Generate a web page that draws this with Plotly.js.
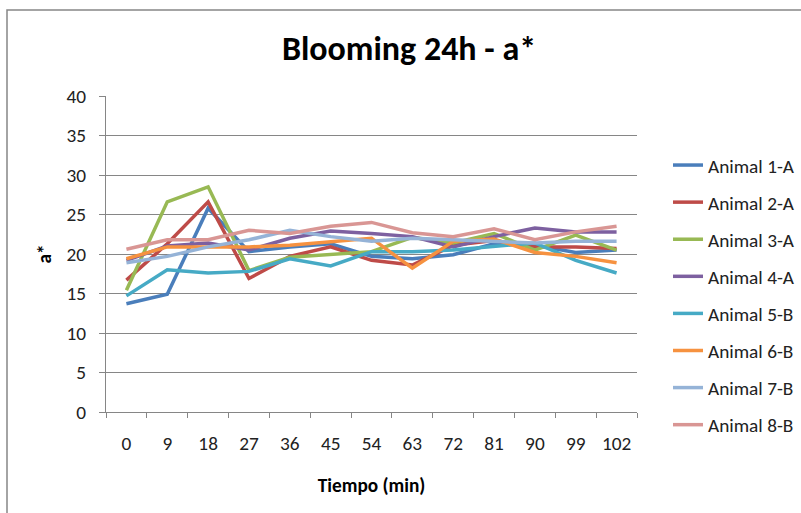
<!DOCTYPE html>
<html>
<head>
<meta charset="utf-8">
<script src="https://cdn.plot.ly/plotly-3.0.1.min.js"></script>
<style>
  html, body { margin: 0; padding: 0; background: #ffffff; overflow: hidden; }
  #chart { width: 830px; height: 513px; }
</style>
</head>
<body>
<div id="chart"></div>
<script>
// Sampling times (minutes)
const tiempos = ['0', '9', '18', '27', '36', '45', '54', '63', '72', '81', '90', '99', '102'];

// a* readings per animal
const animal1A = [13.7, 14.9, 25.8, 20.3, 20.9, 21.3, 19.7, 19.4, 19.9, 21.3, 21.1, 20.2, 20.5];
const animal2A = [16.7, 21.3, 26.6, 16.9, 19.7, 20.9, 19.2, 18.6, 21.1, 21.7, 20.9, 20.9, 20.7];
const animal3A = [15.4, 26.6, 28.5, 17.9, 19.6, 20.0, 20.3, 22.1, 21.4, 22.6, 20.5, 22.4, 20.5];
const animal4A = [19.2, 21.0, 21.4, 20.5, 22.0, 22.9, 22.6, 22.2, 20.9, 22.2, 23.3, 22.8, 22.8];
const animal5B = [14.7, 18.0, 17.6, 17.8, 19.4, 18.5, 20.3, 20.3, 20.5, 20.9, 21.4, 19.2, 17.6];
const animal6B = [19.4, 20.9, 20.9, 20.9, 21.1, 21.6, 22.0, 18.2, 21.6, 21.9, 20.2, 19.7, 18.9];
const animal7B = [18.9, 19.7, 20.9, 21.8, 23.0, 22.2, 21.6, 22.0, 21.8, 21.6, 21.4, 21.6, 21.6];
const animal8B = [20.6, 21.8, 21.8, 23.0, 22.6, 23.5, 24.0, 22.7, 22.2, 23.2, 21.8, 22.8, 23.5];

const seriesNames = ['Animal 1-A', 'Animal 2-A', 'Animal 3-A', 'Animal 4-A',
                     'Animal 5-B', 'Animal 6-B', 'Animal 7-B', 'Animal 8-B'];
const seriesValues = [animal1A, animal2A, animal3A, animal4A,
                      animal5B, animal6B, animal7B, animal8B];
const seriesColors = ['#4a7ebb', '#be4b48', '#98b954', '#7d60a0',
                      '#46aac5', '#f69240', '#95b3d7', '#d99694'];

const FONT = "Carlito, Calibri, 'Liberation Sans Narrow', 'Liberation Sans', sans-serif";
const BODY = 19.3;
// The chart frame runs past the right edge of the window, so the figure is a bit wider
const FIG_W = 830;

const traces = seriesNames.map((name, i) => ({
  type: 'scatter',
  mode: 'lines',
  name: name,
  legendgroup: 'g' + i,
  x: tiempos,
  y: seriesValues[i],
  line: { color: seriesColors[i], width: 3.5 },
  hoverinfo: 'x+y+name'
}));

const layout = {
  width: FIG_W,
  height: 513,
  margin: { l: 106, r: FIG_W - 637, t: 96, b: 101, pad: 0 },
  paper_bgcolor: '#ffffff',
  plot_bgcolor: '#ffffff',
  font: { family: FONT, size: BODY, color: '#222222' },
  title: {
    text: '<b>Blooming 24h - a*</b>',
    font: { family: FONT, size: 34, color: '#000000' },
    x: 409 / FIG_W, xref: 'container', xanchor: 'center',
    y: 1 - 48 / 513, yref: 'container', yanchor: 'middle'
  },
  xaxis: {
    type: 'category',
    categoryorder: 'array',
    categoryarray: tiempos,
    range: [-0.5, tiempos.length - 0.5],
    tickson: 'boundaries',
    ticks: 'outside',
    ticklen: 5,
    tickcolor: '#868686',
    showline: true,
    linecolor: '#868686',
    linewidth: 1,
    showgrid: false,
    zeroline: false,
    ticklabelstandoff: 14,
    tickfont: { family: FONT, size: BODY, color: '#222222' },
    title: {
      text: '<b>Tiempo (min)</b>',
      font: { family: FONT, size: BODY, color: '#000000' },
      standoff: 24
    },
    automargin: false
  },
  yaxis: {
    range: [0, 40],
    dtick: 5,
    tick0: 0,
    ticks: 'outside',
    ticklen: 6,
    tickcolor: '#868686',
    showline: true,
    linecolor: '#868686',
    linewidth: 1,
    showgrid: true,
    gridcolor: '#868686',
    gridwidth: 1,
    zeroline: false,
    ticklabelstandoff: 9,
    tickfont: { family: FONT, size: BODY, color: '#222222' },
    title: {
      text: '<b>a*</b>',
      font: { family: FONT, size: BODY, color: '#000000' },
      standoff: 9
    },
    automargin: false
  },
  legend: {
    x: (668 - 106) / 531,
    xanchor: 'left',
    y: (412 - 146) / 316,
    yanchor: 'top',
    bgcolor: 'rgba(0,0,0,0)',
    font: { family: FONT, size: BODY, color: '#222222' },
    tracegroupgap: 9,
    itemwidth: 30
  },
  shapes: [{
    type: 'rect',
    xref: 'paper', yref: 'paper',
    x0: (7 - 106) / 531, x1: (825 - 106) / 531,
    y0: (412 - 530) / 316, y1: (412 - 10) / 316,
    line: { color: '#868686', width: 1.5 },
    fillcolor: 'rgba(0,0,0,0)',
    layer: 'below'
  }],
  showlegend: true
};

Plotly.newPlot('chart', traces, layout, { displayModeBar: false, staticPlot: true });
</script>
</body>
</html>
